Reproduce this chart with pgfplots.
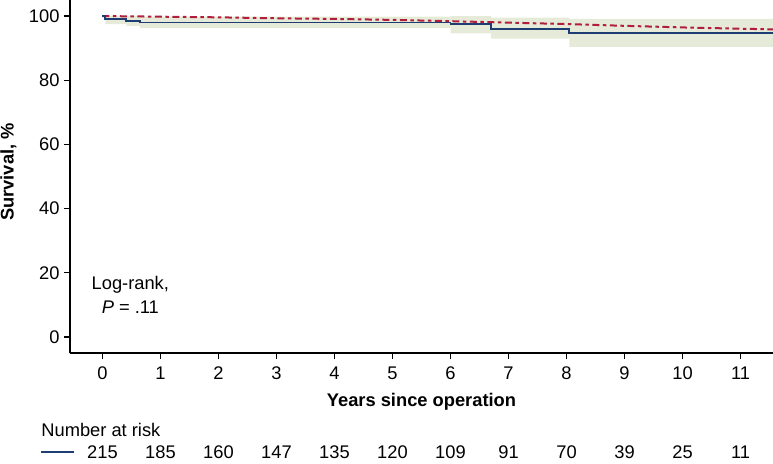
\documentclass[border=0pt]{standalone}
\usepackage{pgfplots}
\pgfplotsset{compat=1.18}
\usepackage{fontspec}
\setmainfont{Liberation Sans}
\definecolor{kmblue}{HTML}{1E3D73}
\definecolor{kmred}{HTML}{B01E3C}
\definecolor{band}{HTML}{E6EAD9}
\newcommand{\fs}{\fontsize{18.3}{24}\selectfont}
\begin{document}
\begin{tikzpicture}
\begin{axis}[
  at={(0,0)}, anchor=south west,
  scale only axis, width=703pt, height=353pt,
  xmin=-0.56, xmax=11.56, ymin=-5, ymax=105,
  axis x line*=bottom, axis y line*=left,
  axis line style={line width=1.8pt},
  xtick={0,1,...,11}, ytick={0,20,...,100},
  tick align=outside, major tick length=6pt,
  tick style={line width=1.1pt, black},
  /pgf/number format/assume math mode=true,
  tick label style={font=\fs},
  xticklabel style={yshift=-4pt},
  yticklabel style={xshift=-1pt},
  clip=false,
]
\addplot[fill=band, draw=none] coordinates {
 (0.05,100)(0.65,100)(0.65,99.8)(6.0,99.8)(6.0,100)(6.7,100)(6.7,99.5)(8.05,99.5)(8.05,99.1)(11.56,99.1)
 (11.56,90.4)(8.05,90.4)(8.05,93.0)(6.7,93.0)(6.7,94.6)(6.0,94.6)(6.0,96.2)(0.65,96.2)(0.65,96.9)(0.41,96.9)(0.41,97.5)(0.05,97.5)} --cycle;
\addplot[kmred, line width=2pt, dash pattern=on 7pt off 3.5pt on 3.5pt off 3.5pt] coordinates {
 (0,100)(1,99.8)(2,99.6)(3,99.3)(4,99.1)(5,98.8)(6,98.4)(7,97.95)(8,97.5)(9,96.95)(10,96.45)(11,96.05)(11.56,95.85)};
\addplot[kmblue, line width=1.9pt] coordinates {
 (0,100)(0.05,100)(0.05,99.1)(0.41,99.1)(0.41,98.4)(0.65,98.4)(0.65,98.0)(6.0,98.0)(6.0,97.4)(6.7,97.4)(6.7,96.0)(8.05,96.0)(8.05,94.8)(11.56,94.8)};
\node[font=\fs, align=center] at (axis cs:0.48,13.1) {Log-rank,\\\textit{P} = .11};
\node[font=\fs\bfseries, rotate=90] at (axis cs:-1.62,51.4) {Survival, \%};
\node[font=\fs\bfseries] at (axis cs:5.5,-20.2) {Years since operation};
\node[font=\fs, anchor=west, inner sep=0pt] at (axis cs:-1.057,-29.0) {Number at risk};
\draw[kmblue, line width=1.5pt] (axis cs:-1.057,-35.8) -- (axis cs:-0.488,-35.8);
\node[font=\fs] at (axis cs:0,-35.8) {215};
\node[font=\fs] at (axis cs:1,-35.8) {185};
\node[font=\fs] at (axis cs:2,-35.8) {160};
\node[font=\fs] at (axis cs:3,-35.8) {147};
\node[font=\fs] at (axis cs:4,-35.8) {135};
\node[font=\fs] at (axis cs:5,-35.8) {120};
\node[font=\fs] at (axis cs:6,-35.8) {109};
\node[font=\fs] at (axis cs:7,-35.8) {91};
\node[font=\fs] at (axis cs:8,-35.8) {70};
\node[font=\fs] at (axis cs:9,-35.8) {39};
\node[font=\fs] at (axis cs:10,-35.8) {25};
\node[font=\fs] at (axis cs:11,-35.8) {11};
\end{axis}
\pgfresetboundingbox
\useasboundingbox (-70pt,-110pt) rectangle (703pt,353pt);
\end{tikzpicture}
\end{document}
